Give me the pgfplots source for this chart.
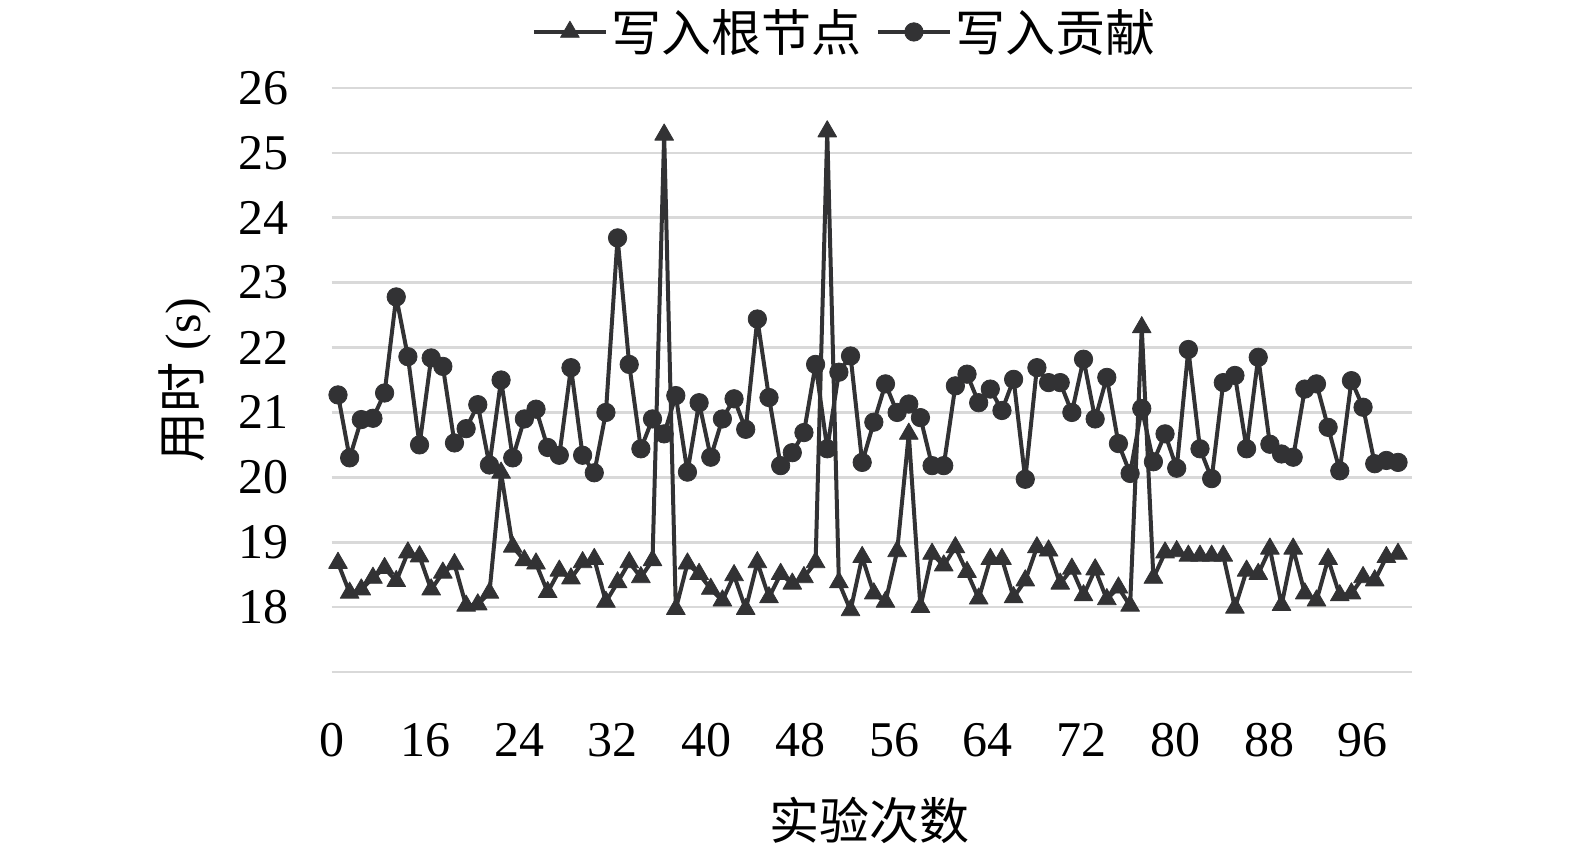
\documentclass[border=0pt]{standalone}
\usepackage{pgfplots}
\usepackage{pgfplotstable}
\pgfplotsset{compat=1.18}
\usepackage{fontspec}
\setmainfont{Liberation Serif}
\newfontfamily\cjk{Noto Sans CJK SC}
\definecolor{ser}{RGB}{50,50,52}
\definecolor{grd}{RGB}{217,217,217}

\pgfplotstableread{
i t c
0 18.68 21.27
1 18.22 20.30
2 18.27 20.89
3 18.45 20.91
4 18.60 21.30
5 18.40 22.78
6 18.84 21.86
7 18.78 20.50
8 18.27 21.84
9 18.53 21.71
10 18.66 20.53
11 18.02 20.75
12 18.04 21.12
13 18.22 20.19
14 20.07 21.50
15 18.93 20.30
16 18.72 20.90
17 18.67 21.05
18 18.23 20.46
19 18.56 20.34
20 18.44 21.69
21 18.69 20.34
22 18.74 20.07
23 18.08 21.00
24 18.38 23.69
25 18.69 21.74
26 18.46 20.44
27 18.72 20.90
28 25.28 20.67
29 17.97 21.26
30 18.67 20.08
31 18.51 21.15
32 18.28 20.31
33 18.10 20.90
34 18.49 21.21
35 17.97 20.74
36 18.69 22.44
37 18.15 21.23
38 18.51 20.18
39 18.36 20.38
40 18.46 20.69
41 18.69 21.74
42 25.33 20.44
43 18.38 21.62
44 17.95 21.87
45 18.77 20.23
46 18.21 20.85
47 18.08 21.44
48 18.86 21.00
49 20.67 21.13
50 18.00 20.92
51 18.82 20.18
52 18.64 20.18
53 18.92 21.41
54 18.54 21.59
55 18.13 21.15
56 18.74 21.36
57 18.74 21.03
58 18.15 21.51
59 18.41 19.97
60 18.92 21.69
61 18.87 21.46
62 18.36 21.46
63 18.59 21.00
64 18.18 21.82
65 18.58 20.90
66 18.12 21.54
67 18.30 20.52
68 18.02 20.06
69 22.31 21.06
70 18.45 20.24
71 18.84 20.67
72 18.86 20.14
73 18.79 21.97
74 18.79 20.44
75 18.79 19.98
76 18.79 21.46
77 17.99 21.57
78 18.56 20.44
79 18.51 21.85
80 18.90 20.51
81 18.03 20.36
82 18.90 20.31
83 18.21 21.36
84 18.10 21.44
85 18.74 20.77
86 18.18 20.10
87 18.21 21.49
88 18.46 21.08
89 18.41 20.21
90 18.77 20.26
91 18.82 20.23
}\data

\begin{document}
\begin{tikzpicture}
\useasboundingbox (-165.85pt,-91pt) rectangle (621.65pt,336pt);
\begin{axis}[
  at={(0pt,0pt)}, anchor=south west,
  scale only axis, width=540.15pt, height=292pt,
  xmin=-0.541, xmax=92.2, ymin=17, ymax=26,
  axis line style={draw=none},
  tick style={draw=none},
  ytick={18,19,...,26},
  extra y ticks={17}, extra y tick labels={},
  extra tick style={grid=major},
  ymajorgrids,
  grid style={grd, line width=1.3pt},
  xtick={-0.541,7.507,15.555,23.603,31.651,39.699,47.747,55.795,63.843,71.891,79.939,87.987},
  xticklabels={0,16,24,32,40,48,56,64,72,80,88,96},
  /pgf/number format/assume math mode=true,
  tick label style={font=\fontsize{25}{30}\selectfont},
  yticklabel style={xshift=-18pt},
  xticklabel style={yshift=-22pt},
  every axis y label/.style={at={(axis description cs:-0.1358,0.5)}, rotate=90, anchor=center},
  every axis x label/.style={at={(axis description cs:0.498,-0.2534)}, anchor=center},
  ylabel={\fontsize{25}{30}\selectfont{\cjk 用时} (s)},
  xlabel={\fontsize{25}{30}\selectfont\cjk 实验次数},
  legend columns=2,
  legend style={at={(axis description cs:0.476,1.096)}, anchor=center, draw=none, fill=none,
    font=\fontsize{25}{30}\selectfont\cjk, inner sep=0pt,
    /tikz/every even column/.append style={column sep=5pt}},
  legend image code/.code={\draw[mark repeat=2,mark phase=2,#1] plot coordinates {(0pt,0pt) (18pt,0pt) (36pt,0pt)};},
  clip=false,
]
\addplot[ser, line width=2pt, line join=round, mark=triangle*, mark size=5.4pt, mark options={solid, line width=0.4pt}] table[x=i,y=t] {\data};
\addlegendentry{写入根节点}
\addplot[ser, line width=2pt, line join=round, mark=*, mark size=4.6pt, mark options={solid, line width=0.4pt}] table[x=i,y=c] {\data};
\addlegendentry{写入贡献}
\end{axis}
\end{tikzpicture}
\end{document}
